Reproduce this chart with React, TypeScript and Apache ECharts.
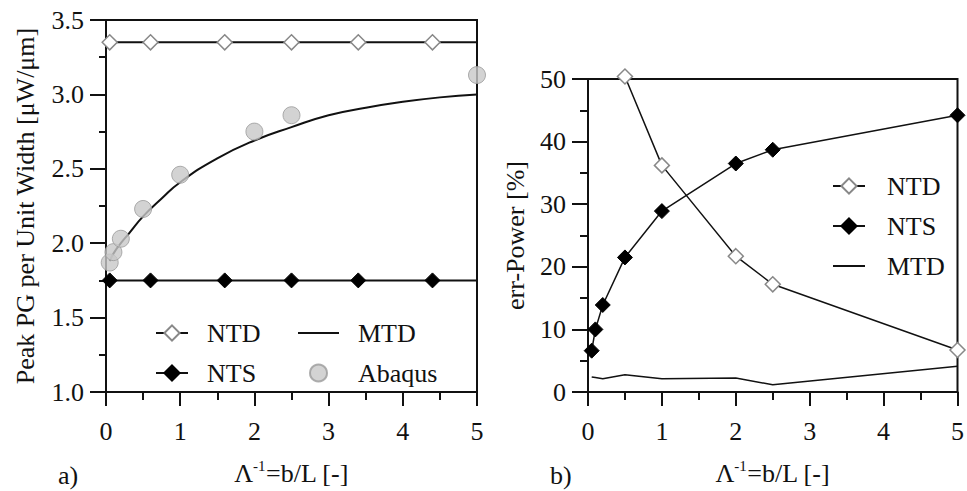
import React, { useEffect, useRef } from "react";
import * as echarts from "echarts";

// ---------- data ----------
const lineEndsX = [0, 5];
// panel a)
const ntdXa = [0.05, 0.6, 1.6, 2.5, 3.4, 4.4];
const ntdYa = [3.35, 3.35, 3.35, 3.35, 3.35, 3.35];
const ntsXa = [0.05, 0.6, 1.6, 2.5, 3.4, 4.4];
const ntsYa = [1.75, 1.75, 1.75, 1.75, 1.75, 1.75];
const mtdXa = [0.05, 0.1, 0.2, 0.3, 0.5, 0.75, 1, 1.5, 2, 2.5, 3, 3.5, 4, 4.5, 5];
const mtdYa = [1.88, 1.93, 2.0, 2.06, 2.18, 2.3, 2.41, 2.57, 2.69, 2.78, 2.86, 2.91, 2.95, 2.98, 3.0];
const abaqusX = [0.05, 0.1, 0.2, 0.5, 1, 2, 2.5, 5];
const abaqusY = [1.87, 1.94, 2.03, 2.23, 2.46, 2.75, 2.86, 3.13];
// panel b)
const ntdXb = [0.5, 1, 2, 2.5, 5];
const ntdYb = [50.4, 36.2, 21.7, 17.2, 6.7];
const ntsXb = [0.05, 0.1, 0.2, 0.5, 1, 2, 2.5, 5];
const ntsYb = [6.6, 10.0, 13.9, 21.5, 28.9, 36.5, 38.7, 44.2];
const mtdXb = [0.05, 0.1, 0.2, 0.5, 1, 2, 2.5, 5];
const mtdYb = [2.4, 2.3, 2.1, 2.75, 2.1, 2.25, 1.15, 4.1];

const FONT = "'Liberation Serif', 'Times New Roman', serif";
const INK = "#111";
const FS = 26;

const pairs = (xs: number[], ys: number[]) => xs.map((x, i) => [x, ys[i]]);
const withEnds = (xs: number[], ys: number[]) => [
  { value: [lineEndsX[0], ys[0]], symbol: "none" },
  ...pairs(xs, ys),
  { value: [lineEndsX[1], ys[ys.length - 1]], symbol: "none" },
];

const xAxisCommon = (gridIndex: number) => ({
  type: "value",
  gridIndex,
  min: 0,
  max: 5,
  interval: 1,
  name: "{a|Λ}{s|-1}{a|=b/L [-]}",
  nameLocation: "middle",
  nameGap: 66,
  nameTextStyle: {
    rich: {
      a: { fontFamily: FONT, fontSize: FS, color: INK, lineHeight: 30 },
      s: { fontFamily: FONT, fontSize: 15, color: INK, lineHeight: 30, verticalAlign: "top", padding: [0, 0, 10, 0] },
    },
  },
  axisLine: { show: true, lineStyle: { color: INK, width: 2 } },
  axisTick: { show: true, inside: false, length: 14, lineStyle: { color: INK, width: 2 } },
  minorTick: { show: true, splitNumber: 2, length: 8, lineStyle: { color: INK, width: 2 } },
  splitLine: { show: false },
  axisLabel: { fontFamily: FONT, fontSize: FS, color: INK, margin: 26 },
});

const hiddenSymbol = { color: "rgba(0,0,0,0)", borderColor: "rgba(0,0,0,0)", borderWidth: 0 };

export default function App() {
  const ref = useRef<HTMLDivElement>(null);
  useEffect(() => {
    document.body.style.margin = "0";
    const chart = echarts.init(ref.current!, undefined, { renderer: "svg" });
    const openDiamond = { color: "#fff", borderColor: "#888", borderWidth: 1.5 };
    const fullDiamond = { color: "#000", borderColor: "#000", borderWidth: 1 };
    const legendText = { fontFamily: FONT, fontSize: FS, color: INK, padding: [0, 0, 0, 14] };
    chart.setOption({
      animation: false,
      backgroundColor: "#fff",
      grid: [
        { left: 106, top: 20, width: 371, height: 373, show: true, borderColor: INK, borderWidth: 2, containLabel: false },
        { left: 588, top: 79, width: 372, height: 314, show: true, borderColor: INK, borderWidth: 2, containLabel: false },
      ],
      xAxis: [xAxisCommon(0), xAxisCommon(1)],
      yAxis: [
        {
          type: "value",
          gridIndex: 0,
          min: 1,
          max: 3.5,
          interval: 0.5,
          name: "Peak PG per Unit Width [μW/μm]",
          nameLocation: "middle",
          nameGap: 68,
          nameTextStyle: { fontFamily: FONT, fontSize: FS, color: INK },
          axisLine: { show: true, lineStyle: { color: INK, width: 2 } },
          axisTick: { show: true, inside: false, length: 16, lineStyle: { color: INK, width: 2 } },
          minorTick: { show: true, splitNumber: 2, length: 7, lineStyle: { color: INK, width: 2 } },
          splitLine: { show: false },
          axisLabel: { fontFamily: FONT, fontSize: FS, color: INK, margin: 22, formatter: (v: number) => v.toFixed(1) },
        },
        {
          type: "value",
          gridIndex: 1,
          min: 0,
          max: 50,
          interval: 10,
          name: "err-Power [%]",
          nameLocation: "middle",
          nameGap: 60,
          nameTextStyle: { fontFamily: FONT, fontSize: FS, color: INK },
          axisLine: { show: true, lineStyle: { color: INK, width: 2 } },
          axisTick: { show: true, inside: false, length: 16, lineStyle: { color: INK, width: 2 } },
          minorTick: { show: true, splitNumber: 2, length: 8, lineStyle: { color: INK, width: 2 } },
          splitLine: { show: false },
          axisLabel: { fontFamily: FONT, fontSize: FS, color: INK, margin: 22 },
        },
      ],
      legend: [
        {
          data: ["NTD", "NTS"],
          orient: "vertical",
          left: 150,
          top: 315,
          itemWidth: 32,
          itemHeight: 19,
          itemGap: 14,
          textStyle: legendText,
          selectedMode: false,
        },
        {
          data: [{ name: "MTD", itemStyle: hiddenSymbol }, "Abaqus"],
          orient: "vertical",
          left: 292,
          top: 315,
          itemWidth: 41,
          itemHeight: 17,
          itemGap: 14,
          textStyle: legendText,
          selectedMode: false,
        },
        {
          data: ["NTD_b", "NTS_b", { name: "MTD_b", itemStyle: hiddenSymbol }],
          orient: "vertical",
          left: 827,
          top: 168,
          itemWidth: 32,
          itemHeight: 19,
          itemGap: 14,
          textStyle: { ...legendText, padding: [0, 0, 0, 17] },
          formatter: (n: string) => n.replace("_b", ""),
          selectedMode: false,
        },
      ],
      graphic: [
        { type: "text", left: 58, top: 462, style: { text: "a)", font: `${FS}px ${FONT}`, fill: INK } },
        { type: "text", left: 550, top: 462, style: { text: "b)", font: `${FS}px ${FONT}`, fill: INK } },
      ],
      series: [
        {
          name: "NTD",
          type: "line",
          xAxisIndex: 0,
          yAxisIndex: 0,
          data: withEnds(ntdXa, ntdYa),
          symbol: "diamond",
          symbolSize: 15,
          lineStyle: { color: INK, width: 2 },
          itemStyle: openDiamond,
          z: 3,
        },
        {
          name: "NTS",
          type: "line",
          xAxisIndex: 0,
          yAxisIndex: 0,
          data: withEnds(ntsXa, ntsYa),
          symbol: "diamond",
          symbolSize: 15,
          lineStyle: { color: INK, width: 2 },
          itemStyle: fullDiamond,
          z: 3,
        },
        {
          name: "MTD",
          type: "line",
          xAxisIndex: 0,
          yAxisIndex: 0,
          data: pairs(mtdXa, mtdYa),
          smooth: true,
          symbol: "none",
          lineStyle: { color: INK, width: 2 },
          itemStyle: { color: INK },
          z: 2,
        },
        {
          name: "Abaqus",
          type: "scatter",
          xAxisIndex: 0,
          yAxisIndex: 0,
          data: pairs(abaqusX, abaqusY),
          symbol: "circle",
          symbolSize: 17,
          itemStyle: { color: "#c8c8c8", borderColor: "#9a9a9a", borderWidth: 1 },
          clip: false,
          z: 4,
        },
        {
          name: "NTD_b",
          type: "line",
          xAxisIndex: 1,
          yAxisIndex: 1,
          data: pairs(ntdXb, ntdYb),
          symbol: "diamond",
          symbolSize: 15,
          lineStyle: { color: INK, width: 1.5 },
          itemStyle: openDiamond,
          clip: false,
          z: 3,
        },
        {
          name: "NTS_b",
          type: "line",
          xAxisIndex: 1,
          yAxisIndex: 1,
          data: pairs(ntsXb, ntsYb),
          symbol: "diamond",
          symbolSize: 15,
          lineStyle: { color: INK, width: 1.5 },
          itemStyle: fullDiamond,
          clip: false,
          z: 3,
        },
        {
          name: "MTD_b",
          type: "line",
          xAxisIndex: 1,
          yAxisIndex: 1,
          data: pairs(mtdXb, mtdYb),
          symbol: "none",
          lineStyle: { color: INK, width: 1.5 },
          itemStyle: { color: INK },
          z: 2,
        },
      ],
    });
    return () => chart.dispose();
  }, []);
  return <div ref={ref} style={{ width: 967, height: 491 }} />;
}
